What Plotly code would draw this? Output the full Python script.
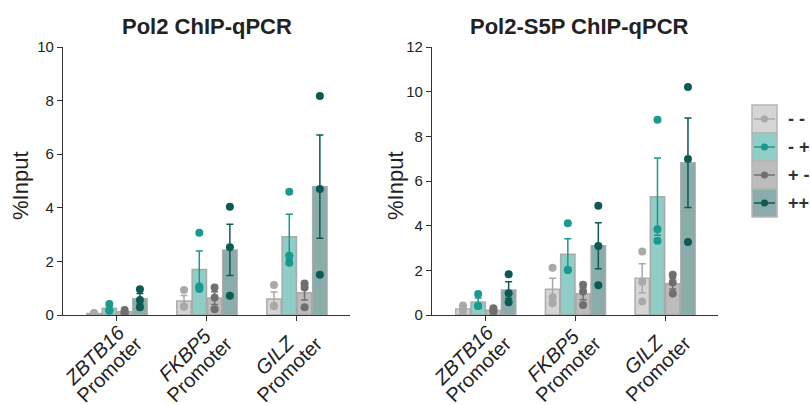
import numpy as np
import plotly.graph_objects as go

genes = ["ZBTB16", "FKBP5", "GILZ"]
label_suffix = "Promoter"
conditions = ["- -", "- +", "+ -", "++"]

# Individual replicate values (% Input), per condition, per gene
pol2_points = {
    "- -": [[0.05, 0.07, 0.06], [0.93, 0.31, 0.33], [1.12, 0.34, 0.34]],
    "- +": [[0.41, 0.16, 0.18], [3.07, 1.06, 0.97], [4.60, 2.21, 1.95]],
    "+ -": [[0.19, 0.06, 0.10], [1.03, 0.65, 0.21], [1.18, 1.03, 0.29]],
    "++": [[0.96, 0.56, 0.29], [4.04, 2.53, 0.72], [8.17, 4.70, 1.50]],
}
s5p_points = {
    "- -": [[0.42, 0.22, 0.15], [2.12, 0.80, 0.53], [2.84, 1.49, 0.60]],
    "- +": [[0.94, 0.40, 0.40], [4.11, 2.02, 2.02], [8.74, 3.84, 3.32]],
    "+ -": [[0.30, 0.19, 0.15], [1.35, 1.05, 0.45], [1.80, 1.45, 0.96]],
    "++": [[1.82, 0.97, 0.57], [4.89, 3.09, 1.33], [10.21, 6.98, 3.27]],
}

titles = ["Pol2 ChIP-qPCR", "Pol2-S5P ChIP-qPCR"]
y_max = [10, 12]
y_dtick = [2, 2]

bar_fill = {"- -": "#d5d5d5", "- +": "#8fcdc7", "+ -": "#bcbcbc", "++": "#8aacaa"}
pt_color = {"- -": "#a9a9a9", "- +": "#1a998e", "+ -": "#6f6f6f", "++": "#0c5a53"}
offsets = [-0.255, -0.085, 0.085, 0.255]
bar_w = 0.16

W, H = 810, 405
fig = go.Figure()

panels = [(pol2_points, "x", "y"), (s5p_points, "x2", "y2")]
for p, (data, xa, ya) in enumerate(panels):
    for k, c in enumerate(conditions):
        pts = [np.array(v) for v in data[c]]
        means = [v.mean() for v in pts]
        sems = [v.std(ddof=1) / np.sqrt(len(v)) for v in pts]
        xs = np.arange(len(genes)) + offsets[k]
        fig.add_trace(go.Bar(
            x=xs, y=means, width=bar_w, xaxis=xa, yaxis=ya,
            marker=dict(color=bar_fill[c], line=dict(color="rgba(165,165,165,0.9)", width=1.5)),
            showlegend=False,
        ))
        fig.add_trace(go.Scatter(
            x=xs, y=means, mode="markers", xaxis=xa, yaxis=ya,
            marker=dict(size=0.1, color="rgba(0,0,0,0)"),
            error_y=dict(type="data", array=sems, color=pt_color[c], thickness=1.5, width=3.5),
            showlegend=False,
        ))
        px_, py_ = [], []
        for g, v in enumerate(pts):
            px_ += [g + offsets[k]] * len(v)
            py_ += list(v)
        fig.add_trace(go.Scatter(
            x=px_, y=py_, mode="markers", xaxis=xa, yaxis=ya,
            marker=dict(size=8, color=pt_color[c]),
            showlegend=False,
        ))

xdoms = [[63 / W, 350 / W], [432 / W, 718 / W]]
ydom = [(H - 315) / H, (H - 47) / H]

axis_common = dict(showgrid=False, zeroline=False, showline=True, linecolor="#333333",
                   linewidth=1.3, ticks="outside", tickcolor="#333333", ticklen=5,
                   tickwidth=1.3)
layout = dict(
    width=W, height=H, margin=dict(l=0, r=0, t=0, b=0),
    plot_bgcolor="white", paper_bgcolor="white",
    font=dict(family="Liberation Sans, Arial, sans-serif", color="#222222"),
    showlegend=False,
)
for i in range(2):
    sx = "" if i == 0 else str(i + 1)
    layout["xaxis" + sx] = dict(
        domain=xdoms[i], range=[-0.6, 2.59], anchor="y" + sx,
        tickvals=list(range(len(genes))), showticklabels=False,
        automargin=False, **axis_common)
    layout["yaxis" + sx] = dict(
        domain=ydom, range=[0, y_max[i]], dtick=y_dtick[i], anchor="x" + sx,
        tickfont=dict(size=15, color="#222222"), automargin=False, **axis_common)
fig.update_layout(**layout)

# Rotated two-line category labels
for i in range(2):
    xr = "x" if i == 0 else "x2"
    for g, name in enumerate(genes):
        fig.add_annotation(x=g, y=ydom[0], xref=xr, yref="paper", text=f"<i>{name}</i>",
                           textangle=-45, showarrow=False, xanchor="center", yanchor="middle",
                           xshift=-22, yshift=-40, font=dict(size=20, color="#222222"))
        fig.add_annotation(x=g, y=ydom[0], xref=xr, yref="paper", text=label_suffix,
                           textangle=-45, showarrow=False, xanchor="center", yanchor="middle",
                           xshift=-7, yshift=-54, font=dict(size=20, color="#222222"))

# Titles
for i in range(2):
    cx = (xdoms[i][0] + xdoms[i][1]) / 2 + (0.0 if i == 0 else 0.006)
    fig.add_annotation(x=cx, y=1 - 27 / H, xref="paper", yref="paper", text=f"<b>{titles[i]}</b>",
                       showarrow=False, font=dict(size=22, color="#222222"), xanchor="center", yanchor="middle")
    ax_x = [20, 395][i]
    fig.add_annotation(x=ax_x / W, y=1 - 186 / H, xref="paper", yref="paper", text="%Input",
                       textangle=-90, showarrow=False, font=dict(size=22, color="#222222"),
                       xanchor="center", yanchor="middle")

# Legend drawn manually
lx0, lx1 = 752, 777
ly0, step = 105, 28
for k, c in enumerate(conditions):
    t = ly0 + k * step
    b = t + step
    fig.add_shape(type="rect", xref="paper", yref="paper",
                  x0=lx0 / W, x1=lx1 / W, y0=1 - b / H, y1=1 - t / H,
                  fillcolor=bar_fill[c], line=dict(color="#b5b5b5", width=1.5))
    cy = (t + b) / 2
    fig.add_shape(type="line", xref="paper", yref="paper",
                  x0=(lx0 + 2) / W, x1=(lx1 - 2) / W, y0=1 - cy / H, y1=1 - cy / H,
                  line=dict(color=pt_color[c], width=1.5))
    r = 3.5
    cxp = (lx0 + lx1) / 2
    fig.add_shape(type="circle", xref="paper", yref="paper",
                  x0=(cxp - r) / W, x1=(cxp + r) / W, y0=1 - (cy + r) / H, y1=1 - (cy - r) / H,
                  fillcolor=pt_color[c], line=dict(color=pt_color[c], width=0))
    fig.add_annotation(x=786 / W, y=1 - cy / H, xref="paper", yref="paper", text=f"<b>{c}</b>",
                       showarrow=False, xanchor="left", yanchor="middle",
                       font=dict(size=18, color="#333333"))

fig.write_html("out.html")
